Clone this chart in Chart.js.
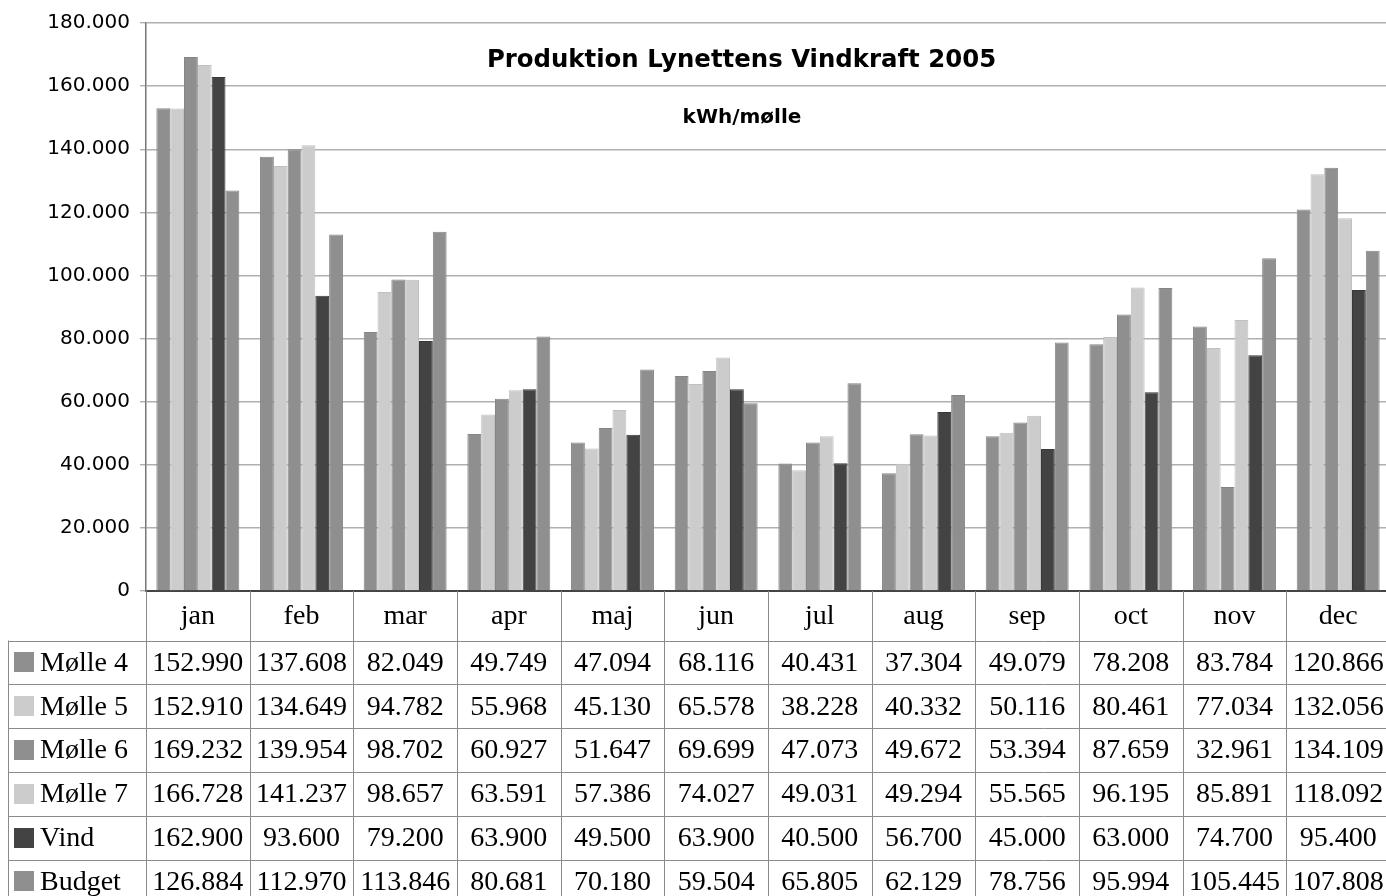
<!DOCTYPE html>
<html lang="da">
<head>
    <meta charset="UTF-8">
    <title>Produktion Lynettens Vindkraft 2005</title>
    <script src="https://cdn.jsdelivr.net/npm/chart.js@4.4.1/dist/chart.umd.min.js"></script>
    <style>
        html, body {margin: 0; padding: 0; background: #fff; overflow: hidden;}
        #wrap {position: relative; width: 1386px; height: 896px; overflow: hidden;}
    </style>
</head>
<body>
<div id="wrap"><canvas id="vind" width="1390" height="896"></canvas></div>
<script>
    const months = ['jan', 'feb', 'mar', 'apr', 'maj', 'jun', 'jul', 'aug', 'sep', 'oct', 'nov', 'dec'];
    const seriesNames = ['Mølle 4', 'Mølle 5', 'Mølle 6', 'Mølle 7', 'Vind', 'Budget'];

    const molle4 = [152990, 137608, 82049, 49749, 47094, 68116, 40431, 37304, 49079, 78208, 83784, 120866];
    const molle5 = [152910, 134649, 94782, 55968, 45130, 65578, 38228, 40332, 50116, 80461, 77034, 132056];
    const molle6 = [169232, 139954, 98702, 60927, 51647, 69699, 47073, 49672, 53394, 87659, 32961, 134109];
    const molle7 = [166728, 141237, 98657, 63591, 57386, 74027, 49031, 49294, 55565, 96195, 85891, 118092];
    const vind = [162900, 93600, 79200, 63900, 49500, 63900, 40500, 56700, 45000, 63000, 74700, 95400];
    const budget = [126884, 112970, 113846, 80681, 70180, 59504, 65805, 62129, 78756, 95994, 105445, 107808];

    const colors = ['#8f8f8f', '#cccccc', '#8f8f8f', '#cccccc', '#434343', '#8f8f8f'];
    const edges = ['#858585', '#c0c0c0', '#858585', '#c0c0c0', '#383838', '#858585'];

    const sansFont = 'Verdana, "DejaVu Sans", sans-serif';
    const serifFont = '"Times New Roman", "Liberation Serif", serif';

    // 152990 -> "152.990"
    function fmt(v) {
        if (v < 1000) return String(v);
        let rest = String(v % 1000).padStart(3, '0');
        return Math.floor(v / 1000) + '.' + rest;
    }

    const allSeries = [molle4, molle5, molle6, molle7, vind, budget];

    const headerH = 49.5;
    const rowH = 43.8;
    const tableLeft = 8;

    // titel + datatabel under grafen
    const tablePlugin = {
        id: 'tablePlugin',
        afterDraw(chart) {
            const ctx = chart.ctx;
            const area = chart.chartArea;
            const xs = chart.scales.x;
            const colW = (area.right - area.left) / months.length;
            const top = area.bottom;
            const rowsTop = top + headerH;
            const bottom = chart.height + 20;

            ctx.save();

            // titel
            ctx.fillStyle = '#000';
            ctx.textAlign = 'center';
            ctx.textBaseline = 'middle';
            ctx.font = 'bold 24.4px ' + sansFont;
            ctx.fillText('Produktion Lynettens Vindkraft 2005', 741.5, 61);
            ctx.font = 'bold 20px ' + sansFont;
            ctx.fillText('kWh/mølle', 742, 118);

            // linjer
            ctx.strokeStyle = '#8a8a8a';
            ctx.lineWidth = 1;
            ctx.beginPath();
            for (let i = 0; i < months.length; i++) {
                let x = Math.round(area.left + i * colW) + 0.5;
                ctx.moveTo(x, top);
                ctx.lineTo(x, bottom);
            }
            ctx.moveTo(tableLeft + 0.5, rowsTop);
            ctx.lineTo(tableLeft + 0.5, bottom);
            for (let r = 0; r <= seriesNames.length; r++) {
                let y = Math.round(rowsTop + r * rowH) + 0.5;
                ctx.moveTo(tableLeft, y);
                ctx.lineTo(chart.width, y);
            }
            ctx.stroke();

            // måneder
            ctx.font = '28px ' + serifFont;
            ctx.fillStyle = '#000';
            months.forEach((m, i) => {
                ctx.fillText(m, xs.getPixelForValue(i), top + headerH / 2 + 1);
            });

            // rækker
            seriesNames.forEach((name, r) => {
                let cy = rowsTop + r * rowH + rowH / 2 + 1;
                ctx.fillStyle = colors[r];
                ctx.fillRect(14, Math.round(cy - 11), 20, 20);
                ctx.fillStyle = '#000';
                ctx.textAlign = 'left';
                ctx.fillText(name, 40, cy);
                ctx.textAlign = 'center';
                allSeries[r].forEach((v, i) => {
                    ctx.fillText(fmt(v), xs.getPixelForValue(i), cy);
                });
            });

            ctx.restore();
        }
    };

    new Chart(document.getElementById('vind'), {
        type: 'bar',
        data: {
            labels: months,
            datasets: seriesNames.map((name, i) => ({
                label: name,
                data: allSeries[i],
                backgroundColor: colors[i],
                borderColor: edges[i],
                borderWidth: 1,
                categoryPercentage: 0.8,
                barPercentage: 1.0
            }))
        },
        options: {
            responsive: false,
            animation: false,
            layout: {padding: {top: 23, right: 0, bottom: 0, left: 0}},
            plugins: {
                legend: {display: false},
                title: {display: false},
                tooltip: {enabled: false}
            },
            scales: {
                x: {
                    ticks: {display: false},
                    grid: {display: false},
                    border: {display: true, color: '#444', width: 2},
                    afterFit(scale) { scale.height = 896 - 591; }
                },
                y: {
                    min: 0,
                    max: 180000,
                    ticks: {
                        stepSize: 20000,
                        padding: 10,
                        color: '#000',
                        font: {family: sansFont, size: 20},
                        callback: v => fmt(v)
                    },
                    grid: {color: '#b0b0b0', lineWidth: 1.4, tickLength: 6},
                    border: {display: true, color: '#777', width: 1.5},
                    afterFit(scale) { scale.width = 146; }
                }
            }
        },
        plugins: [tablePlugin]
    });
</script>
</body>
</html>
